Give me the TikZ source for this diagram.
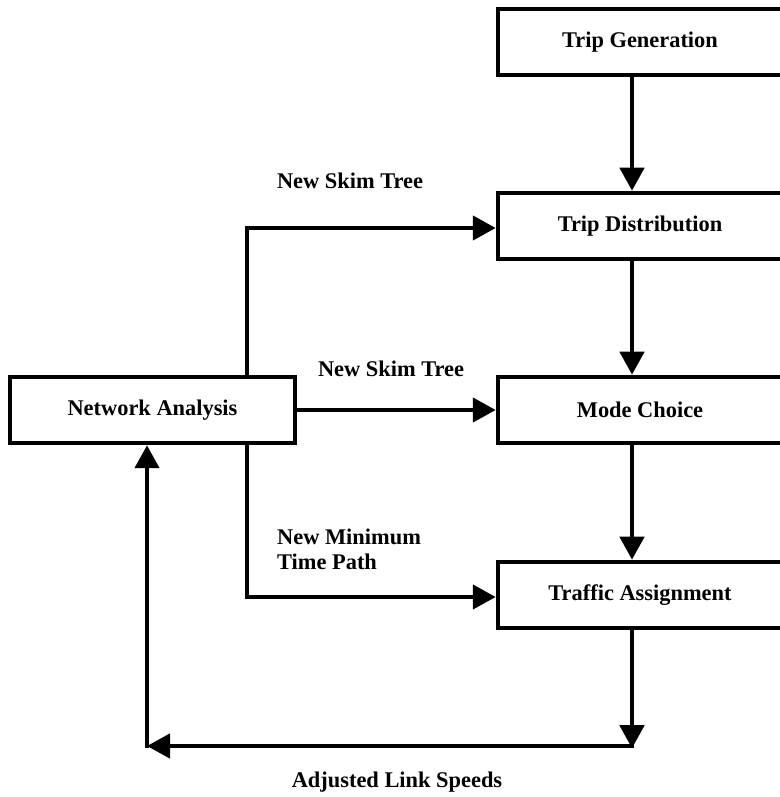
\documentclass[tikz,border=0pt]{standalone}
\usepackage{fontspec}
\setmainfont{Liberation Serif}
\usetikzlibrary{arrows.meta}
\begin{document}
\begin{tikzpicture}[x=1pt,y=1pt,
  every node/.style={font=\fontsize{22.4}{25}\selectfont\bfseries},
  stagebox/.style={draw, line width=4.5pt, minimum width=284pt, minimum height=66pt, inner sep=0pt},
  flow/.style={line width=4.5pt, -{Triangle[length=23pt,width=24pt]}},
  plain/.style={line width=4.5pt}]
\useasboundingbox (0,0) rectangle (779,797);

% model stages
\node[stagebox] (tg) at (640,755) {Trip Generation};
\node[stagebox] (td) at (640,571) {Trip Distribution};
\node[stagebox] (mc) at (640,387) {Mode Choice};
\node[stagebox] (ta) at (640,202) {Traffic Assignment};
\node[stagebox, minimum width=285pt] (na) at (152.5,387) {Network Analysis};

% helper columns and turning points
\coordinate (col) at (632,0);
\coordinate (trunk) at (247,0);
\coordinate (back) at (147,0);
\coordinate (topturn) at (247,569);
\coordinate (lowturn) at (247,200);
\coordinate (loopR) at (632,51);
\coordinate (loopL) at (147,51);

% main chain
\draw[flow] (tg.south -| col) -- (td.north -| col);
\draw[flow] (td.south -| col) -- (mc.north -| col);
\draw[flow] (mc.south -| col) -- (ta.north -| col);

% skim trees and paths from network analysis
\draw[plain] (na.north -| trunk) -- (topturn);
\draw[flow] ([xshift=-2.25pt]topturn) -- (td.west |- topturn);
\draw[flow] (na.east) -- (mc.west);
\draw[plain] (na.south -| trunk) -- (lowturn);
\draw[flow] ([xshift=-2.25pt]lowturn) -- (ta.west |- lowturn);

% feedback loop
\draw[flow] (ta.south -| col) -- ([yshift=-2.25pt]loopR);
\draw[flow] ([xshift=2.25pt]loopR) -- (loopL);
\draw[flow] ([yshift=-2.25pt]loopL) -- (na.south -| back);

% labels
\node (l1) at (350,616) {New Skim Tree};
\node (l2) at (391,428) {New Skim Tree};
\node[anchor=west, align=left, inner sep=0pt] (l3) at (277,247.5) {New Minimum\\Time Path};
\node (l4) at (397,15) {Adjusted Link Speeds};
\end{tikzpicture}
\end{document}
